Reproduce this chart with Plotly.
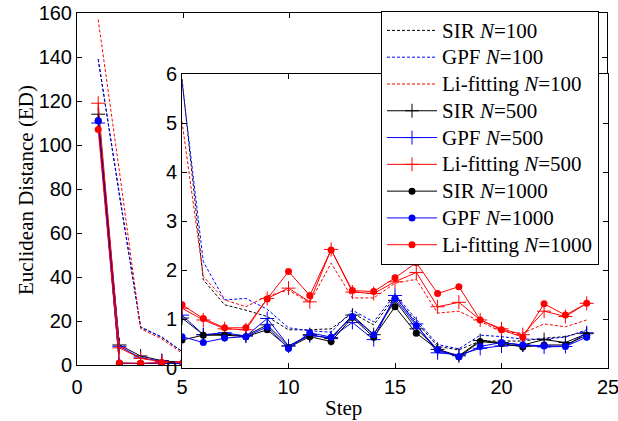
import plotly.graph_objects as go

W, H = 618, 421

steps = list(range(1, 25))

sir_100 = [139, 77, 17.4, 12.5, 5.9, 1.80, 1.29, 1.18, 1.05, 0.78, 0.78, 0.80,
           1.12, 0.88, 1.45, 0.95, 0.44, 0.37, 0.55, 0.55, 0.55, 0.61, 0.64, 0.75]
gpf_100 = [139, 78, 17.0, 12.8, 5.85, 2.17, 1.39, 1.42, 1.20, 0.82, 0.76, 0.73,
           1.18, 0.94, 1.50, 0.98, 0.48, 0.39, 0.67, 0.64, 0.59, 0.59, 0.63, 0.78]
li_100 = [157, 88, 16.5, 11.8, 5.03, 1.87, 1.39, 1.25, 1.47, 1.59, 1.33, 2.14,
          1.43, 1.43, 1.73, 1.81, 1.12, 1.16, 0.95, 0.74, 0.71, 0.90, 0.84, 0.98]

sir_500 = [114, 9.1, 4.1, 2.0, 1.02, 0.68, 0.68, 0.66, 0.88, 0.45, 0.68, 0.60,
           1.08, 0.68, 1.38, 0.80, 0.38, 0.25, 0.56, 0.52, 0.47, 0.58, 0.52, 0.70]
gpf_500 = [110, 8.5, 3.2, 1.8, 1.08, 0.68, 0.72, 0.65, 1.01, 0.45, 0.66, 0.62,
           0.93, 0.58, 1.48, 0.90, 0.31, 0.27, 0.40, 0.45, 0.47, 0.43, 0.44, 0.72]
li_500 = [119, 7.8, 3.0, 1.5, 1.22, 0.98, 0.80, 0.78, 1.42, 1.63, 1.35, 2.42,
          1.55, 1.52, 1.76, 1.95, 1.25, 1.34, 0.98, 0.80, 0.68, 1.16, 1.05, 1.32]

sir_1000 = [111, 0.8, 0.7, 0.9, 0.57, 0.67, 0.67, 0.64, 0.78, 0.42, 0.64, 0.54,
            1.03, 0.63, 1.25, 0.71, 0.38, 0.23, 0.54, 0.50, 0.43, 0.47, 0.47, 0.67]
gpf_1000 = [111, 0.8, 0.7, 0.9, 0.64, 0.52, 0.61, 0.64, 0.84, 0.40, 0.72, 0.63,
            1.05, 0.68, 1.42, 0.86, 0.37, 0.23, 0.44, 0.52, 0.47, 0.45, 0.44, 0.63]
li_1000 = [107, 0.9, 0.8, 1.1, 1.29, 1.01, 0.82, 0.82, 1.41, 1.97, 1.48, 2.41,
           1.58, 1.56, 1.84, 2.15, 1.52, 1.66, 0.98, 0.78, 0.63, 1.31, 1.08, 1.32]

series = [
    ("SIR <i>N</i>=100", sir_100, "black", "100"),
    ("GPF <i>N</i>=100", gpf_100, "blue", "100"),
    ("Li-fitting <i>N</i>=100", li_100, "red", "100"),
    ("SIR <i>N</i>=500", sir_500, "black", "500"),
    ("GPF <i>N</i>=500", gpf_500, "blue", "500"),
    ("Li-fitting <i>N</i>=500", li_500, "red", "500"),
    ("SIR <i>N</i>=1000", sir_1000, "black", "1000"),
    ("GPF <i>N</i>=1000", gpf_1000, "blue", "1000"),
    ("Li-fitting <i>N</i>=1000", li_1000, "red", "1000"),
]

SERIF = "Liberation Serif, Times New Roman, serif"
SANS = "Liberation Sans, Arial, sans-serif"


def style(color, kind):
    if kind == "100":
        return dict(mode="lines", line=dict(color=color, width=1, dash="3px,2px"))
    if kind == "500":
        return dict(mode="lines+markers", line=dict(color=color, width=1),
                    marker=dict(symbol="cross-thin", size=10, color=color,
                                line=dict(color=color, width=1)))
    return dict(mode="lines+markers", line=dict(color=color, width=1),
                marker=dict(symbol="circle", size=7, color=color))


fig = go.Figure()

# full-range curves on the outer axes (legend lives here)
for name, ys, color, kind in series:
    label = '<span style="font-size:21px">' + name + "</span>"
    fig.add_trace(go.Scatter(x=steps, y=ys, name=label, showlegend=True,
                             xaxis="x", yaxis="y", **style(color, kind)))

# zoomed view of steps 5-24 on the inset axes
for name, ys, color, kind in series:
    xs = [s for s in steps if s >= 5]
    yv = [v for s, v in zip(steps, ys) if s >= 5]
    fig.add_trace(go.Scatter(x=xs, y=yv, name=name, showlegend=False,
                             xaxis="x2", yaxis="y2", **style(color, kind)))

axis_common = dict(showline=True, linecolor="black", linewidth=1, mirror="ticks",
                   ticks="inside", ticklen=5, tickcolor="black", showgrid=False,
                   zeroline=False, automargin=False, ticklabeloverflow="allow",
                   tickfont=dict(family=SANS, size=20, color="black"))

fig.update_layout(
    template="none",
    width=W, height=H,
    margin=dict(l=0, r=0, t=0, b=0, pad=0, autoexpand=False),
    paper_bgcolor="white", plot_bgcolor="white",
    font=dict(family=SANS, color="black"),
    showlegend=True,
    xaxis=dict(domain=[77 / W, 607 / W], range=[0, 25],
               tickvals=[0, 5, 10, 15, 20, 25], ticktext=["0", "", "", "", "", ""],
               anchor="y", ticklabelstandoff=4, **axis_common),
    yaxis=dict(domain=[(H - 365) / H, (H - 13) / H], range=[0, 160],
               tickvals=[0, 20, 40, 60, 80, 100, 120, 140, 160],
               anchor="x", **axis_common),
    xaxis2=dict(domain=[182 / W, 608 / W], range=[5, 25],
                tickvals=[5, 10, 15, 20, 25], anchor="y2", ticklabelstandoff=1,
                **axis_common),
    yaxis2=dict(domain=[(H - 368) / H, (H - 74) / H], range=[0, 6],
                tickvals=[0, 1, 2, 3, 4, 5, 6], anchor="x2", **axis_common),
    legend=dict(x=599 / W, xanchor="right", y=(H - 11) / H, yanchor="top",
                bgcolor="white", bordercolor="black", borderwidth=1,
                font=dict(family=SERIF, size=18.3, color="black"),
                itemwidth=50, tracegroupgap=0),
    annotations=[
        dict(text="Euclidean Distance (ED)", x=26 / W, y=(H - 190) / H,
             xref="paper", yref="paper", textangle=-90, showarrow=False,
             xanchor="center", yanchor="middle",
             font=dict(family=SERIF, size=21, color="black")),
        dict(text="Step", x=343 / W, y=(H - 408) / H, xref="paper", yref="paper",
             showarrow=False, xanchor="center", yanchor="middle",
             font=dict(family=SERIF, size=21, color="black")),
    ],
)

fig.write_html("out.html")
